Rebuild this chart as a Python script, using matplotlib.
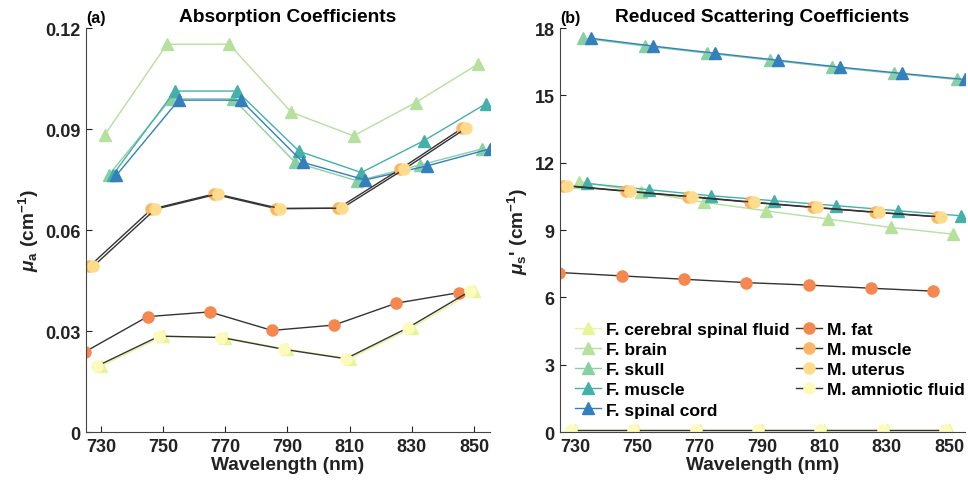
import numpy as np
import matplotlib
matplotlib.use("Agg")
import matplotlib.pyplot as plt

plt.rcParams['font.family'] = ['Liberation Sans', 'DejaVu Sans']
plt.rcParams['font.weight'] = 'bold'
plt.rcParams['mathtext.fontset'] = 'custom'
plt.rcParams['mathtext.it'] = 'Liberation Sans:italic:bold'
plt.rcParams['mathtext.rm'] = 'Liberation Sans:bold'
plt.rcParams['mathtext.bf'] = 'Liberation Sans:bold'

# base wavelengths (nm); each tissue is shifted slightly so the markers don't overlap
wl = np.array([725, 745, 765, 785, 805, 825, 845])

names = ['F. cerebral spinal fluid', 'F. brain', 'F. skull', 'F. muscle', 'F. spinal cord',
         'M. fat', 'M. muscle', 'M. uterus', 'M. amniotic fluid']
shift = {'M. fat': 0.0, 'M. muscle': 1.25, 'M. uterus': 2.5, 'M. amniotic fluid': 3.75,
         'F. cerebral spinal fluid': 5.0, 'F. brain': 6.25, 'F. skull': 7.5,
         'F. muscle': 8.75, 'F. spinal cord': 10.0}
colors = {'F. cerebral spinal fluid': '#e6f598', 'F. brain': '#b5e09e', 'F. skull': '#88d0a4',
          'F. muscle': '#45b0a9', 'F. spinal cord': '#3380bd',
          'M. fat': '#f5874f', 'M. muscle': '#fdb565', 'M. uterus': '#fedc8b',
          'M. amniotic fluid': '#fdfbbc'}

# absorption coefficient mu_a (1/cm)
mua = {
    'F. cerebral spinal fluid': [0.0196, 0.0285, 0.0281, 0.0246, 0.0218, 0.0310, 0.0419],
    'F. brain': [0.0883, 0.1152, 0.1152, 0.0950, 0.0880, 0.0979, 0.1093],
    'F. skull': [0.0763, 0.0990, 0.0990, 0.0801, 0.0746, 0.0793, 0.0841],
    'F. muscle': [0.0763, 0.1013, 0.1013, 0.0834, 0.0771, 0.0865, 0.0975],
    'F. spinal cord': [0.0763, 0.0986, 0.0986, 0.0801, 0.0749, 0.0791, 0.0841],
    'M. fat': [0.0239, 0.0343, 0.0357, 0.0302, 0.0318, 0.0383, 0.0414],
    'M. muscle': [0.0492, 0.0662, 0.0707, 0.0664, 0.0665, 0.0781, 0.0903],
    'M. uterus': [0.0492, 0.0662, 0.0707, 0.0664, 0.0665, 0.0781, 0.0903],
    'M. amniotic fluid': [0.0196, 0.0285, 0.0281, 0.0246, 0.0218, 0.0310, 0.0419],
}

# reduced scattering coefficient mu_s' (1/cm)
mus = {
    'F. cerebral spinal fluid': [0.1, 0.1, 0.1, 0.1, 0.1, 0.1, 0.1],
    'F. brain': [11.16, 10.71, 10.24, 9.86, 9.49, 9.12, 8.82],
    'F. skull': [17.55, 17.2, 16.88, 16.57, 16.26, 15.98, 15.71],
    'F. muscle': [11.08, 10.80, 10.53, 10.31, 10.09, 9.86, 9.64],
    'F. spinal cord': [17.55, 17.2, 16.88, 16.57, 16.26, 15.98, 15.71],
    'M. fat': [7.11, 6.96, 6.81, 6.66, 6.55, 6.41, 6.28],
    'M. muscle': [10.98, 10.73, 10.49, 10.24, 10.01, 9.79, 9.59],
    'M. uterus': [10.98, 10.73, 10.49, 10.24, 10.01, 9.79, 9.59],
    'M. amniotic fluid': [0.1, 0.1, 0.1, 0.1, 0.1, 0.1, 0.1],
}

fig = plt.figure(figsize=(9.68, 4.85), dpi=100)
ax1 = fig.add_axes([0.0888, 0.107, 0.417, 0.833])
ax2 = fig.add_axes([0.5785, 0.107, 0.418, 0.833])


def draw(ax, data):
    for name in names:
        x = wl + shift[name]
        if name.startswith('F.'):
            ax.plot(x, data[name], '-^', color=colors[name], lw=1, ms=8.5,
                    mec=colors[name], label=name)
        else:
            ax.plot(x, data[name], '-o', color='#333333', lw=1, ms=8,
                    mfc=colors[name], mec=colors[name], label=name)


draw(ax1, mua)
draw(ax2, mus)

for ax in (ax1, ax2):
    ax.set_xlim(725.2, 855)
    ax.set_xticks(range(730, 851, 20))
    ax.spines['top'].set_visible(False)
    ax.spines['right'].set_visible(False)
    ax.spines['left'].set_color('#444444')
    ax.spines['bottom'].set_color('#444444')
    ax.tick_params(direction='in', length=4, labelsize=13, colors='#222222', pad=4)
    ax.set_xlabel('Wavelength (nm)', fontsize=13.8, fontweight='bold', labelpad=1,
                  color='#222222')

ax1.set_ylim(0, 0.12)
ax1.set_yticks([0, 0.03, 0.06, 0.09, 0.12])
ax1.set_yticklabels(['0', '0.03', '0.06', '0.09', '0.12'])
ax1.set_ylabel(r'$\mu_{\mathrm{a}}$ (cm$^{\mathrm{-1}}$)', fontsize=13.8, fontweight='bold',
               labelpad=3, color='#222222')
ax1.set_title('Absorption Coefficients', fontsize=13.8, fontweight='bold', pad=5)
ax1.text(0.0, 1.008, '(a)', transform=ax1.transAxes, fontsize=11.5, fontweight='bold',
         ha='left', va='bottom')

ax2.set_ylim(0, 18)
ax2.set_yticks(range(0, 19, 3))
ax2.set_ylabel(r"$\mu_{\mathrm{s}}$' (cm$^{\mathrm{-1}}$)", fontsize=13.8, fontweight='bold',
               labelpad=3, color='#222222')
ax2.set_title('Reduced Scattering Coefficients', fontsize=13.8, fontweight='bold', pad=5)
ax2.text(0.0, 1.008, '(b)', transform=ax2.transAxes, fontsize=11.5, fontweight='bold',
         ha='left', va='bottom')

leg = ax2.legend(ncol=2, loc='lower left', bbox_to_anchor=(0.01, 0.01), frameon=False,
                 prop={'weight': 'bold', 'size': 12.6}, handlelength=1.5,
                 handletextpad=0.3, columnspacing=0.35, labelspacing=0.28,
                 borderaxespad=0.2)

for ax in (ax1, ax2):
    for lbl in ax.get_xticklabels() + ax.get_yticklabels():
        lbl.set_fontweight('bold')

fig.savefig('out.png', dpi=100)
